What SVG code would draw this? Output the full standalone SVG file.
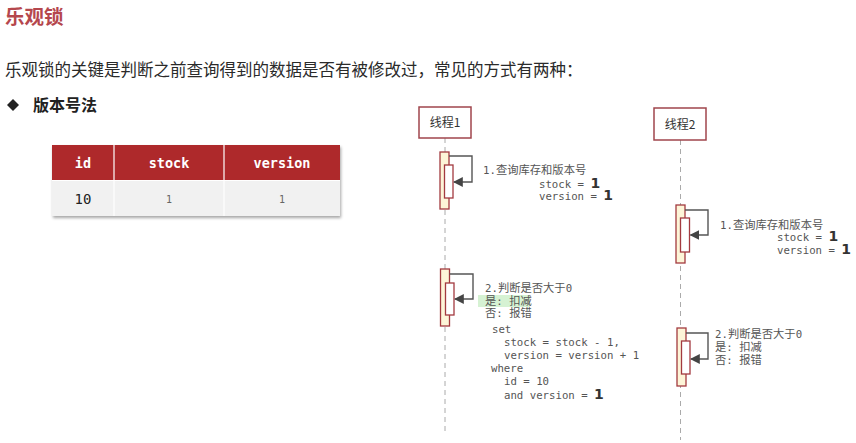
<svg xmlns="http://www.w3.org/2000/svg" width="856" height="443" viewBox="0 0 856 443">
<defs>
<style>
.cjk{font-family:"Noto Sans CJK SC","Noto Sans",sans-serif}
.mono{font-family:"DejaVu Sans Mono","Liberation Mono","Noto Sans CJK SC",monospace;font-size:10.7px;fill:#555}
.c{font-family:"Noto Sans CJK SC","Noto Sans",sans-serif;font-size:11.3px}
.big{font-family:"DejaVu Sans",sans-serif;font-weight:bold;font-size:14px;fill:#333}
.life{stroke:#aaa;stroke-width:1;stroke-dasharray:5 4;fill:none}
.actout{fill:#fdf5d8;stroke:#a33a3f;stroke-width:1.3}
.actin{fill:#fff;stroke:#a33a3f;stroke-width:1.3}
.loop{fill:none;stroke:#555;stroke-width:1.4}
.tbox{fill:#fff;stroke:#a0454c;stroke-width:1.5}
.th{font-family:"DejaVu Sans Mono","Liberation Mono",monospace;font-weight:bold;font-size:13.5px;fill:#fff;text-anchor:middle}
</style>
<marker id="ah" viewBox="0 0 10 10" refX="9" refY="5" markerWidth="7" markerHeight="7" orient="auto-start-reverse">
<path d="M0,0 L10,5 L0,10 z" fill="#444"/>
</marker>
<filter id="sh" x="-5%" y="-5%" width="115%" height="125%">
<feDropShadow dx="1" dy="2" stdDeviation="1.5" flood-color="#000" flood-opacity="0.35"/>
</filter>
</defs>
<rect width="856" height="443" fill="#fff"/>

<text x="5" y="24" class="cjk" font-size="19.5" font-weight="bold" fill="#b5474d">乐观锁</text>
<text x="5" y="76" class="cjk" font-size="16.5" fill="#2a2a2a">乐观锁的关键是判断之前查询得到的数据是否有被修改过，常见的方式有两种：</text>
<path d="M13,99 L19,105 L13,111 L7,105 z" fill="#222"/>
<text x="33" y="111" class="cjk" font-size="16" font-weight="bold" fill="#222">版本号法</text>

<g id="table">
<rect x="52" y="145" width="288" height="71" fill="#f1f1f1" filter="url(#sh)"/>
<rect x="52" y="145" width="288" height="35" fill="#ae292b"/>
<line x1="114" y1="145" x2="114" y2="216" stroke="#fff" stroke-width="1.2"/>
<line x1="224" y1="145" x2="224" y2="216" stroke="#fff" stroke-width="1.2"/>
<line x1="52" y1="180.5" x2="340" y2="180.5" stroke="#fff" stroke-width="1"/>
<text x="83" y="168" class="th">id</text>
<text x="169" y="168" class="th">stock</text>
<text x="282" y="168" class="th">version</text>
<text x="83" y="204" font-family="DejaVu Sans Mono,monospace" font-size="14" fill="#222" text-anchor="middle">10</text>
<text x="169" y="203" font-family="DejaVu Sans Mono,monospace" font-size="10" fill="#666" text-anchor="middle">1</text>
<text x="282" y="203" font-family="DejaVu Sans Mono,monospace" font-size="10" fill="#666" text-anchor="middle">1</text>
</g>

<g id="thread1">
<line class="life" x1="445" y1="138" x2="445" y2="432"/>
<rect class="tbox" x="419" y="107" width="52" height="31"/>
<text x="445" y="127" class="cjk" font-size="12" fill="#333" text-anchor="middle">线程1</text>
</g>
<g id="thread2">
<line class="life" x1="680.5" y1="140" x2="680.5" y2="440"/>
<rect class="tbox" x="654" y="108" width="52" height="32"/>
<text x="680" y="129" class="cjk" font-size="12" fill="#333" text-anchor="middle">线程2</text>
</g>

<g id="t1-step1">
<rect class="actout" x="440" y="152" width="9" height="57"/>
<rect class="actin" x="444.5" y="165" width="8.5" height="33"/>
<text x="483" y="174" class="mono">1.<tspan class="c">查询库存和版本号</tspan></text>
<text x="539" y="188" class="mono" xml:space="preserve">stock = <tspan class="big">1</tspan></text>
<text x="539" y="200" class="mono" xml:space="preserve">version = <tspan class="big">1</tspan></text>
</g>

<g id="t1-step2">
<rect class="actout" x="440.5" y="269" width="9" height="57"/>
<rect class="actin" x="445.5" y="283" width="8.5" height="32"/>
<rect x="478" y="295" width="52" height="12" fill="#d6f2d3"/>
<text x="485" y="292" class="mono">2.<tspan class="c">判断是否大于</tspan>0</text>
<text x="485" y="305" class="mono" xml:space="preserve"><tspan class="c">是</tspan>: <tspan class="c">扣减</tspan></text>
<text x="485" y="317" class="mono" xml:space="preserve"><tspan class="c">否</tspan>: <tspan class="c">报错</tspan></text>
<text x="492" y="333" class="mono">set</text>
<text x="504" y="346" class="mono" xml:space="preserve">stock = stock - 1,</text>
<text x="504" y="359" class="mono" xml:space="preserve">version = version + 1</text>
<text x="491" y="372" class="mono">where</text>
<text x="504" y="385" class="mono" xml:space="preserve">id = 10</text>
<text x="504" y="399" class="mono" xml:space="preserve">and version = <tspan class="big">1</tspan></text>
</g>

<g id="t2-step1">
<rect class="actout" x="676" y="205" width="9" height="58"/>
<rect class="actin" x="680.5" y="218" width="9" height="34"/>
<text x="720" y="229" class="mono">1.<tspan class="c">查询库存和版本号</tspan></text>
<text x="777" y="241" class="mono" xml:space="preserve">stock = <tspan class="big">1</tspan></text>
<text x="777" y="254" class="mono" xml:space="preserve">version = <tspan class="big">1</tspan></text>
</g>

<g id="t2-step2">
<rect class="actout" x="677" y="328" width="9" height="58"/>
<rect class="actin" x="681.5" y="341" width="8.5" height="33"/>
<text x="715" y="338" class="mono">2.<tspan class="c">判断是否大于</tspan>0</text>
<text x="715" y="351" class="mono" xml:space="preserve"><tspan class="c">是</tspan>: <tspan class="c">扣减</tspan></text>
<text x="715" y="364" class="mono" xml:space="preserve"><tspan class="c">否</tspan>: <tspan class="c">报错</tspan></text>
</g>

<g id="connectors">
<path class="loop" d="M449,156 H472 V182 H454" marker-end="url(#ah)"/>
<path class="loop" d="M449.5,274 H473 V299 H455" marker-end="url(#ah)"/>
<path class="loop" d="M685,210 H708 V235 H690.5" marker-end="url(#ah)"/>
<path class="loop" d="M686,333 H708 V359 H691" marker-end="url(#ah)"/>
</g>
</svg>
